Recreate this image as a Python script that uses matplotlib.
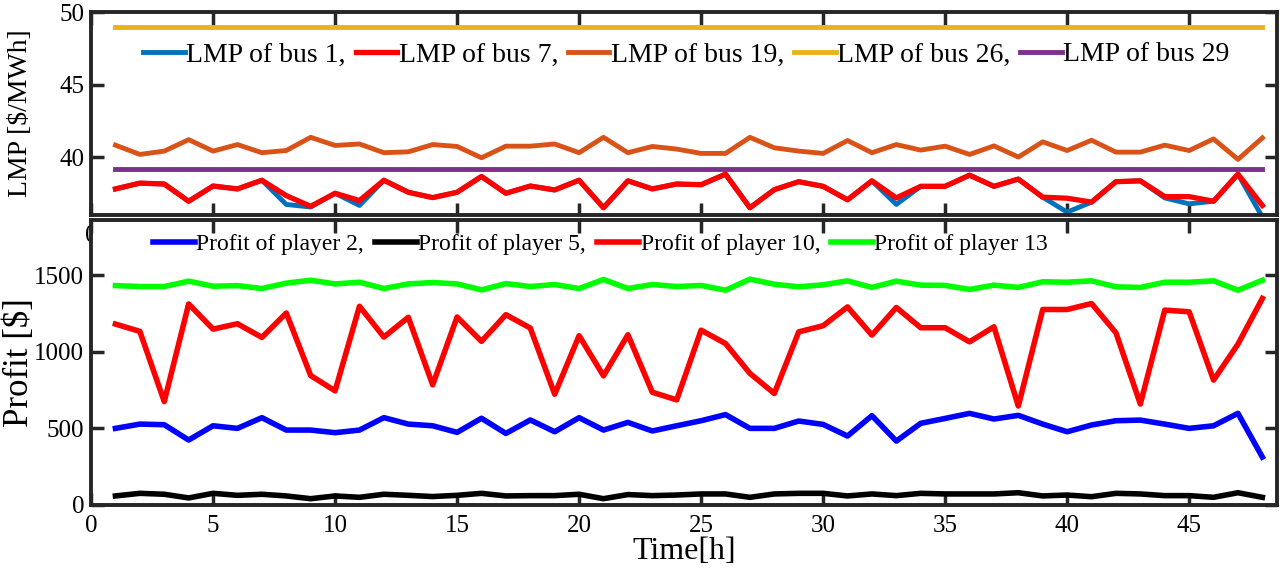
import numpy as np
import matplotlib.pyplot as plt

plt.rcParams['font.family'] = ['Liberation Serif', 'DejaVu Serif']

# hours
hours = list(range(1, 49))

# LMP values [$/MWh]
lmp_bus1 = [37.8, 38.2, 38.14, 36.95, 38.0, 37.8, 38.4, 36.73, 36.55, 37.5, 36.66, 38.4,
            37.57, 37.2, 37.57, 38.66, 37.5, 38.0, 37.73, 38.4, 36.5, 38.36, 37.8, 38.14,
            38.09, 38.82, 36.5, 37.75, 38.3, 37.98, 37.05, 38.36, 36.73, 37.98, 37.98, 38.75,
            37.98, 38.48, 37.23, 36.2, 36.89, 38.3, 38.36, 37.18, 36.77, 36.95, 38.82, 35.86]
lmp_bus7 = [37.8, 38.2, 38.14, 36.95, 38.0, 37.8, 38.4, 37.34, 36.6, 37.5, 37.0, 38.4,
            37.57, 37.2, 37.57, 38.66, 37.5, 38.0, 37.73, 38.4, 36.5, 38.36, 37.8, 38.14,
            38.09, 38.82, 36.5, 37.75, 38.3, 37.98, 37.05, 38.36, 37.18, 37.98, 37.98, 38.75,
            37.98, 38.48, 37.23, 37.16, 36.89, 38.3, 38.36, 37.27, 37.27, 36.95, 38.82, 36.66]
lmp_bus19 = [40.82, 40.18, 40.41, 41.2, 40.41, 40.86, 40.3, 40.45, 41.36, 40.8, 40.9, 40.3,
             40.36, 40.86, 40.73, 39.95, 40.75, 40.75, 40.9, 40.3, 41.36, 40.3, 40.73, 40.55,
             40.25, 40.25, 41.36, 40.64, 40.41, 40.25, 41.14, 40.3, 40.86, 40.48, 40.75, 40.18,
             40.77, 40.0, 41.05, 40.45, 41.16, 40.34, 40.34, 40.82, 40.45, 41.25, 39.84, 41.32]
lmp_bus26 = [49.0, 49.0, 49.0, 49.0, 49.0, 49.0, 49.0, 49.0, 49.0, 49.0, 49.0, 49.0,
             49.0, 49.0, 49.0, 49.0, 49.0, 49.0, 49.0, 49.0, 49.0, 49.0, 49.0, 49.0,
             49.0, 49.0, 49.0, 49.0, 49.0, 49.0, 49.0, 49.0, 49.0, 49.0, 49.0, 49.0,
             49.0, 49.0, 49.0, 49.0, 49.0, 49.0, 49.0, 49.0, 49.0, 49.0, 49.0, 49.0]
lmp_bus29 = [39.2, 39.2, 39.2, 39.2, 39.2, 39.2, 39.2, 39.2, 39.2, 39.2, 39.2, 39.2,
             39.2, 39.2, 39.2, 39.2, 39.2, 39.2, 39.2, 39.2, 39.2, 39.2, 39.2, 39.2,
             39.2, 39.2, 39.2, 39.2, 39.2, 39.2, 39.2, 39.2, 39.2, 39.2, 39.2, 39.2,
             39.2, 39.2, 39.2, 39.2, 39.2, 39.2, 39.2, 39.2, 39.2, 39.2, 39.2, 39.2]

# profits [$]
profit_p2 = [500, 528, 524, 424, 517, 500, 570, 489, 489, 472, 489, 570,
             528, 517, 474, 566, 467, 555, 478, 570, 489, 539, 483, 517,
             550, 590, 500, 500, 548, 526, 450, 583, 417, 533, 565, 598,
             561, 585, 528, 478, 522, 550, 554, 528, 500, 517, 598, 313]
profit_p5 = [59, 76, 70, 46, 76, 63, 70, 59, 41, 59, 50, 70,
             63, 55, 63, 76, 59, 61, 61, 70, 41, 68, 61, 65,
             72, 72, 50, 72, 76, 76, 59, 72, 61, 76, 72, 72,
             72, 80, 59, 65, 54, 76, 72, 61, 61, 50, 80, 50]
profit_p10 = [1181, 1133, 675, 1312, 1148, 1183, 1094, 1253, 845, 745, 1297, 1096,
              1225, 784, 1227, 1068, 1242, 1155, 723, 1105, 843, 1111, 736, 686,
              1141, 1054, 859, 728, 1130, 1170, 1293, 1109, 1289, 1157, 1157, 1065,
              1163, 646, 1276, 1276, 1315, 1124, 659, 1272, 1261, 815, 1050, 1348]
profit_p13 = [1432, 1426, 1426, 1461, 1428, 1432, 1413, 1448, 1467, 1443, 1454, 1413,
              1443, 1452, 1443, 1404, 1445, 1426, 1439, 1413, 1472, 1413, 1439, 1426,
              1433, 1402, 1474, 1441, 1424, 1437, 1463, 1420, 1461, 1435, 1433, 1407,
              1435, 1420, 1457, 1454, 1463, 1424, 1420, 1454, 1454, 1463, 1402, 1467]

spine_col = '#262626'


def style_axes(ax):
    for s in ax.spines.values():
        s.set_linewidth(2.8)
        s.set_color(spine_col)
    ax.tick_params(direction='in', length=9, width=2.5, color=spine_col,
                   labelsize=18, top=True, right=True, pad=5)
    ax.tick_params(axis='x', pad=7)
    ax.set_xlim(0, 48.6)
    ax.set_xticks(np.arange(0, 50, 5))


fig = plt.figure(figsize=(12.86, 5.76), dpi=100)

# top panel: LMP
ax1 = fig.add_axes([0.0708, 0.6267, 0.9222, 0.3523])
ax1.plot(hours, lmp_bus1, color='#0072BD', lw=3.5, label='LMP of bus 1,')
ax1.plot(hours, lmp_bus7, color='#FF0000', lw=3.8, label='LMP of bus 7,')
ax1.plot(hours, lmp_bus19, color='#D95319', lw=3.5, label='LMP of bus 19,')
ax1.plot(hours, lmp_bus26, color='#EDB120', lw=3.5, label='LMP of bus 26,')
ax1.plot(hours, lmp_bus29, color='#7E2F8E', lw=3.5, label='LMP of bus 29')
style_axes(ax1)
ax1.set_ylim(36, 50)
ax1.set_yticks([40, 45, 50])
ax1.set_ylabel('LMP [$/MWh]', fontsize=20)
ax1.yaxis.set_label_coords(-0.049, 0.5)
ax1.legend(loc='center left', bbox_to_anchor=(0.044, 0.79), ncol=5, frameon=False,
           fontsize=20, handlelength=1.5, handletextpad=0.05, columnspacing=0.35,
           borderpad=0, borderaxespad=0)

# bottom panel: profits (drawn over the top panel's x labels)
ax2 = fig.add_axes([0.0708, 0.1233, 0.9222, 0.4947])
ax2.set_facecolor('white')
ax2.plot(hours, profit_p2, color='#0000FF', lw=4, label='Profit of player 2,')
ax2.plot(hours, profit_p5, color='#000000', lw=4, label='Profit of player 5,')
ax2.plot(hours, profit_p10, color='#FF0000', lw=4, label='Profit of player 10,')
ax2.plot(hours, profit_p13, color='#00FF00', lw=4, label='Profit of player 13')
style_axes(ax2)
ax2.set_ylim(0, 1860)
ax2.set_yticks([0, 500, 1000, 1500])
ax2.set_xlabel('Time[h]', fontsize=23, labelpad=0)
ax2.set_ylabel('Profit [$]', fontsize=25)
ax2.yaxis.set_label_coords(-0.046, 0.5)
ax2.legend(loc='center left', bbox_to_anchor=(0.052, 0.915), ncol=4, frameon=False,
           fontsize=17, handlelength=1.8, handletextpad=0.05, columnspacing=0.45,
           borderpad=0, borderaxespad=0)

plt.savefig('out.png', dpi=100)
